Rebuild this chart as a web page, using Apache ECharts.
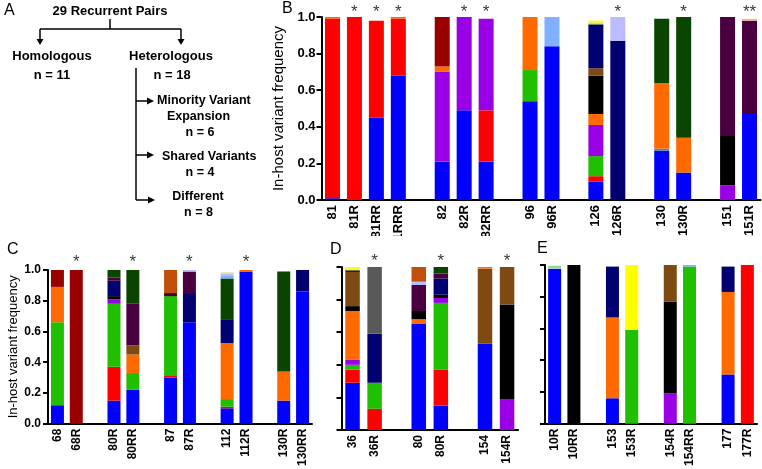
<!DOCTYPE html>
<html><head><meta charset="utf-8">
<script src="https://cdn.jsdelivr.net/npm/echarts@6/dist/echarts.min.js"></script>
<style>html,body{margin:0;padding:0;background:#fff}#c{width:762px;height:469px}</style>
</head><body><div id="c"></div>
<script>
// ---------- colours of the variants ----------
const PAL = {
  blue:'#0000FF', red:'#FF0000', orange:'#FF6A00', darkred:'#990000', purple:'#9900E6',
  green:'#20BF00', ltblue:'#80B0FF', navy:'#000070', brown:'#7F4A12', black:'#000000',
  lavender:'#BBBBFF', dkgreen:'#0A4500', plum:'#4A0040', yellow:'#FFFF00', gray:'#595959',
  rust:'#C04F0A', peach:'#F5B090', lime:'#CCEE33', teal:'#3399AA', khaki:'#DDDD99', ltgreen:'#88DD88'
};

// ---------- Panel B ----------
const catsB  = ['81','81R','81RR','81RRR','','82','82R','82RR','','96','96R','','126','126R','','130','130R','','151','151R'];
const starsB = ['','*','*','*','','','*','*','','','','','','*','','','*','','','**'];
const segsB = [
  [[0.01,'blue'],[0.98,'red'],[0.01,'orange']],
  [[1.00,'red']],
  [[0.45,'blue'],[0.53,'red']],
  [[0.68,'blue'],[0.31,'red'],[0.01,'orange']],
  [],
  [[0.21,'blue'],[0.49,'purple'],[0.03,'orange'],[0.27,'darkred']],
  [[0.49,'blue'],[0.51,'purple']],
  [[0.21,'blue'],[0.28,'red'],[0.50,'purple']],
  [],
  [[0.54,'blue'],[0.17,'green'],[0.29,'orange']],
  [[0.84,'blue'],[0.16,'ltblue']],
  [],
  [[0.10,'blue'],[0.03,'red'],[0.11,'green'],[0.17,'purple'],[0.06,'orange'],[0.21,'black'],[0.04,'brown'],[0.24,'navy'],[0.01,'lime'],[0.01,'yellow']],
  [[0.87,'navy'],[0.13,'lavender']],
  [],
  [[0.27,'blue'],[0.01,'teal'],[0.36,'orange'],[0.35,'dkgreen']],
  [[0.15,'blue'],[0.19,'orange'],[0.66,'dkgreen']],
  [],
  [[0.08,'purple'],[0.27,'black'],[0.65,'plum']],
  [[0.47,'blue'],[0.51,'plum'],[0.01,'peach']]
];

// ---------- Panel C ----------
const catsC  = ['68','68R','','80R','80RR','','87','87R','','112','112R','','130R','130RR'];
const starsC = ['','*','','','*','','','*','','','*','','',''];
const segsC = [
  [[0.12,'blue'],[0.54,'green'],[0.23,'orange'],[0.11,'darkred']],
  [[1.00,'darkred']],
  [],
  [[0.15,'blue'],[0.22,'red'],[0.41,'green'],[0.03,'purple'],[0.02,'black'],[0.10,'navy'],[0.02,'plum'],[0.05,'dkgreen']],
  [[0.22,'blue'],[0.11,'green'],[0.12,'orange'],[0.06,'brown'],[0.27,'plum'],[0.22,'dkgreen']],
  [],
  [[0.30,'blue'],[0.01,'red'],[0.52,'green'],[0.02,'plum'],[0.15,'rust']],
  [[0.66,'blue'],[0.19,'navy'],[0.14,'plum'],[0.01,'lavender']],
  [],
  [[0.10,'blue'],[0.01,'red'],[0.05,'green'],[0.365,'orange'],[0.15,'navy'],[0.27,'dkgreen'],[0.02,'ltblue'],[0.01,'lavender'],[0.01,'khaki']],
  [[0.99,'blue'],[0.01,'orange']],
  [],
  [[0.15,'blue'],[0.19,'orange'],[0.65,'dkgreen']],
  [[0.86,'blue'],[0.14,'navy']]
];

// ---------- Panel D ----------
const catsD  = ['36','36R','','80','80R','','154','154R'];
const starsD = ['','*','','','*','','','*'];
const segsD = [
  [[0.29,'blue'],[0.08,'red'],[0.03,'green'],[0.03,'purple'],[0.30,'orange'],[0.03,'black'],[0.21,'brown'],[0.01,'navy'],[0.02,'yellow']],
  [[0.13,'red'],[0.16,'green'],[0.30,'navy'],[0.41,'gray']],
  [],
  [[0.65,'blue'],[0.03,'orange'],[0.05,'black'],[0.16,'plum'],[0.02,'lavender'],[0.09,'rust']],
  [[0.15,'blue'],[0.22,'red'],[0.41,'green'],[0.03,'purple'],[0.02,'black'],[0.10,'navy'],[0.03,'plum'],[0.04,'dkgreen']],
  [],
  [[0.53,'blue'],[0.46,'brown'],[0.01,'orange']],
  [[0.19,'purple'],[0.58,'black'],[0.23,'brown']]
];

// ---------- Panel E ----------
const catsE  = ['10R','10RR','','153','153R','','154R','154RR','','177','177R'];
const starsE = ['','','','','','','','','','',''];
const segsE = [
  [[0.975,'blue'],[0.005,'lavender'],[0.015,'ltgreen']],
  [[1.00,'black']],
  [],
  [[0.16,'blue'],[0.51,'orange'],[0.32,'navy']],
  [[0.59,'green'],[0.41,'yellow']],
  [],
  [[0.19,'purple'],[0.58,'black'],[0.23,'brown']],
  [[0.99,'green'],[0.01,'ltblue']],
  [],
  [[0.31,'blue'],[0.52,'orange'],[0.16,'navy']],
  [[1.00,'red']]
];

const yTicks = [0, 0.2, 0.4, 0.6, 0.8, 1.0];
const yTitle = 'In-host variant frequency';

const FONT = '"Liberation Sans", Arial, sans-serif';
const panels = [
  {cats:catsB, segs:segsB, stars:starsB, grid:{left:321.5, top:17, width:439, height:183}, barW:15, starY:1.025, labels:true, yFont:13, xFont:13, titleFont:15, nameGap:29, yMargin:6},
  {cats:catsC, segs:segsC, stars:starsC, grid:{left:48, top:270, width:264, height:160}, barW:13, starY:1.052, labels:true, yFont:12, xFont:12, titleFont:13, nameGap:28, yMargin:7},
  {cats:catsD, segs:segsD, stars:starsD, grid:{left:341.5, top:267, width:176.6, height:163}, barW:14.5, starY:1.034, labels:false, xFont:12},
  {cats:catsE, segs:segsE, stars:starsE, grid:{left:545, top:265, width:212, height:164}, barW:13, starY:1.03, labels:false, xFont:12}
];

const grids = [], xAxes = [], yAxes = [], series = [];
panels.forEach((p, gi) => {
  grids.push(Object.assign({containLabel:false}, p.grid));
  xAxes.push({
    type:'category', gridIndex:gi, data:p.cats,
    axisLine:{lineStyle:{color:'#000', width:2}},
    axisTick:{alignWithLabel:true, interval:0, length:4, lineStyle:{color:'#000', width:2}},
    axisLabel:{interval:0, rotate:90, margin:5, color:'#000', fontSize:p.xFont, fontWeight:'bold', fontFamily:FONT},
    splitLine:{show:false}
  });
  yAxes.push({
    type:'value', gridIndex:gi, min:yTicks[0], max:yTicks[yTicks.length-1], interval:0.2,
    name: p.labels ? yTitle : '', nameLocation:'middle', nameRotate:90, nameGap:p.nameGap || 20,
    nameTextStyle:{fontSize:p.titleFont || 13, color:'#000', fontFamily:FONT},
    axisLine:{show:true, lineStyle:{color:'#000', width:2}},
    axisTick:{show:true, length:5, lineStyle:{color:'#000', width:2}},
    axisLabel:{show:p.labels, margin:p.yMargin || 6, color:'#000', fontWeight:'bold', fontSize:p.yFont || 12, fontFamily:FONT,
               formatter:v => v.toFixed(1)},
    splitLine:{show:false}
  });
  const layers = Math.max(...p.segs.map(s => s.length));
  for (let k = 0; k < layers; k++) {
    series.push({
      type:'bar', xAxisIndex:gi, yAxisIndex:gi, stack:'s'+gi, barWidth:p.barW,
      silent:true, animation:false,
      data:p.segs.map(s => s[k] ? {value:s[k][0], itemStyle:{color:PAL[s[k][1]]}} : '-')
    });
  }
  series.push({
    type:'scatter', xAxisIndex:gi, yAxisIndex:gi, clip:false, silent:true, animation:false,
    symbol:'circle', symbolSize:1, itemStyle:{color:'rgba(0,0,0,0)'},
    data:p.stars.map(s => s ? p.starY : '-'),
    label:{show:true, position:'inside', color:'#000', fontSize:17, fontFamily:FONT,
           formatter:q => p.stars[q.dataIndex]}
  });
});

// ---------- Panel A flowchart (text + connectors) ----------
const B13 = 'bold 13px ' + FONT, B12 = 'bold 12.5px ' + FONT;
function txt(t, x, y, font, align) {
  return {type:'text', z:10, x:x, y:y, style:{text:t, font:font, fill:'#000', align:align || 'center', verticalAlign:'middle'}};
}
function ln(x1, y1, x2, y2) {
  return {type:'line', z:10, shape:{x1, y1, x2, y2}, style:{stroke:'#000', lineWidth:1.5}};
}
function headDown(x, y) { return {type:'polygon', z:10, shape:{points:[[x-3.5,y-6],[x+3.5,y-6],[x,y]]}, style:{fill:'#000'}}; }
function headRight(x, y) { return {type:'polygon', z:10, shape:{points:[[x-7,y-3.5],[x-7,y+3.5],[x,y]]}, style:{fill:'#000'}}; }

const graphics = [
  {type:'rect', z:5, shape:{x:300, y:236, width:462, height:12}, style:{fill:'#fff'}},
  txt('A', 4, 11, '16px ' + FONT, 'left'),
  txt('B', 282, 9, '16px ' + FONT, 'left'),
  txt('C', 7, 250, '16px ' + FONT, 'left'),
  txt('D', 330, 250, '16px ' + FONT, 'left'),
  txt('E', 537, 249, '16px ' + FONT, 'left'),
  txt('29 Recurrent Pairs', 110, 11, B13),
  ln(110, 19, 110, 29), ln(40, 29, 181, 29),
  ln(40, 29, 40, 40), headDown(40, 45),
  ln(181, 29, 181, 40), headDown(181, 45),
  txt('Homologous', 52, 56, B13), txt('n = 11', 52, 75, B13),
  txt('Heterologous', 171, 56, B13), txt('n = 18', 172, 75, B13),
  ln(136, 68, 136, 200),
  ln(136, 101, 148, 101), headRight(154, 101),
  ln(136, 155, 148, 155), headRight(154, 155),
  ln(136, 200, 149, 200), headRight(155, 200),
  txt('Minority Variant', 157, 101, B12, 'left'),
  txt('Expansion', 198.5, 117, B12), txt('n = 6', 200, 133, B12),
  txt('Shared Variants', 162, 157, B12, 'left'), txt('n = 4', 200, 173, B12),
  txt('Different', 198, 197, B12), txt('n = 8', 198.5, 213, B12)
];

const chart = echarts.init(document.getElementById('c'), null, {renderer:'canvas'});
chart.setOption({
  backgroundColor:'#fff', animation:false,
  grid:grids, xAxis:xAxes, yAxis:yAxes, series:series, graphic:graphics
});
</script></body></html>
